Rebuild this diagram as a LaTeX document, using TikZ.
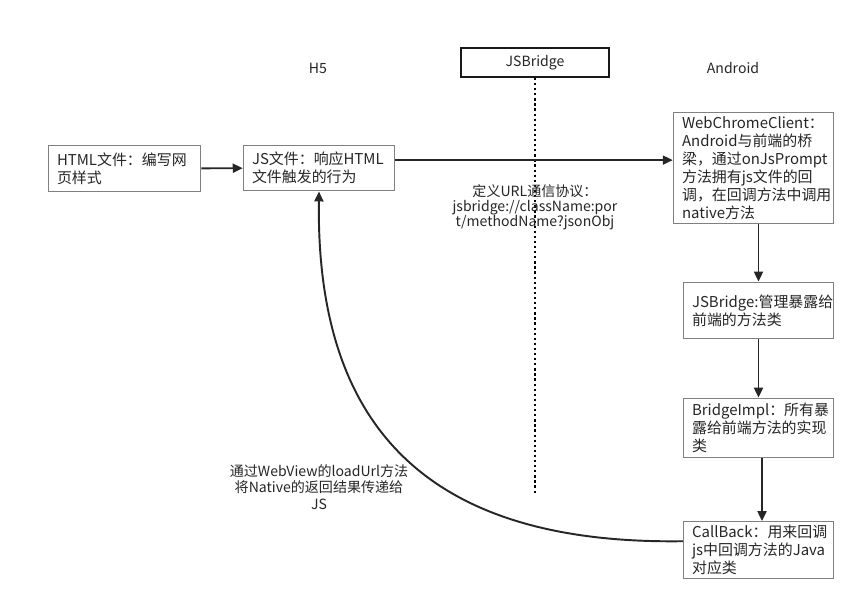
\documentclass[tikz,border=0pt]{standalone}
\usepackage{fontspec}
\setmainfont{Noto Sans CJK SC}
\usetikzlibrary{arrows.meta}

\begin{document}
\begin{tikzpicture}[x=0.02cm,y=-0.02cm,>={Triangle[length=2mm,width=1.8mm]}]
  \useasboundingbox[fill=white] (0,0) rectangle (867,609);
  \tikzset{
    box/.style={draw=black!50,line width=0.6pt,inner xsep=5pt,inner ysep=2pt,align=left,text=black!85,font=\fontsize{8.5}{10.2}\selectfont},
    lbl/.style={align=center,text=black!85,font=\fontsize{8}{8.6}\selectfont},
    link/.style={->,line width=1.1pt,draw=black!85}
  }
  \node[lbl] (h5) at (318,68) {H5};
  \node[lbl] (andr) at (733,68) {Android};
  \node[lbl,draw=black!90,line width=1.1pt,minimum width=83.9pt,minimum height=16.4pt] (hdr) at (535,62.5) {JSBridge};
  \coordinate (hdrend) at (535,493);
  \draw[line width=1.3pt,dash pattern=on 1.3pt off 1.6pt] (hdr.south) -- (hdrend);

  \node[box,text width=76.8pt,minimum height=26.7pt] (html) at (124.5,168.5) {HTML文件：编写网\\页样式};
  \node[box,text width=76.2pt,minimum height=26.1pt] (js) at (319,168) {JS文件：响应HTML\\文件触发的行为};
  \node[box,text width=81.3pt,minimum height=63.5pt] (wcc) at (753.5,168) {WebChromeClient：\\Android与前端的桥\\梁，通过onJsPrompt\\方法拥有js文件的回\\调，在回调方法中调用\\native方法};
  \node[box,text width=75.6pt,minimum height=32.3pt] (bridge) at (758.5,310.5) {JSBridge:管理暴露给\\前端的方法类};
  \node[box,text width=75.6pt,minimum height=34pt] (impl) at (758.5,428) {BridgeImpl：所有暴\\露给前端方法的实现\\类};
  \node[box,text width=75.6pt,minimum height=31.8pt] (cb) at (758.5,550) {CallBack：用来回调\\js中回调方法的Java\\对应类};

  \node[lbl] (proto) at (535,207) {定义URL通信协议：\\jsbridge://className:por\\t/methodName?jsonObj};
  \node[lbl,font=\fontsize{8}{9.3}\selectfont] (back) at (319,487) {通过WebView的loadUrl方法\\将Native的返回结果传递给\\JS};

  \draw[link] (html) -- (js);
  \draw[link] ([yshift=4.5pt]js.east) -- ([yshift=4.5pt]wcc.west);
  \draw[link] (wcc.south -| bridge.north) -- (bridge.north);
  \draw[link] (bridge) -- (impl);
  \draw[link] ([xshift=2pt]impl.south) -- ([xshift=2pt]cb.north);
  \draw[link] ([yshift=5pt]cb.west) .. controls (420,545) and (316,420) .. (js.south);
\end{tikzpicture}
\end{document}
